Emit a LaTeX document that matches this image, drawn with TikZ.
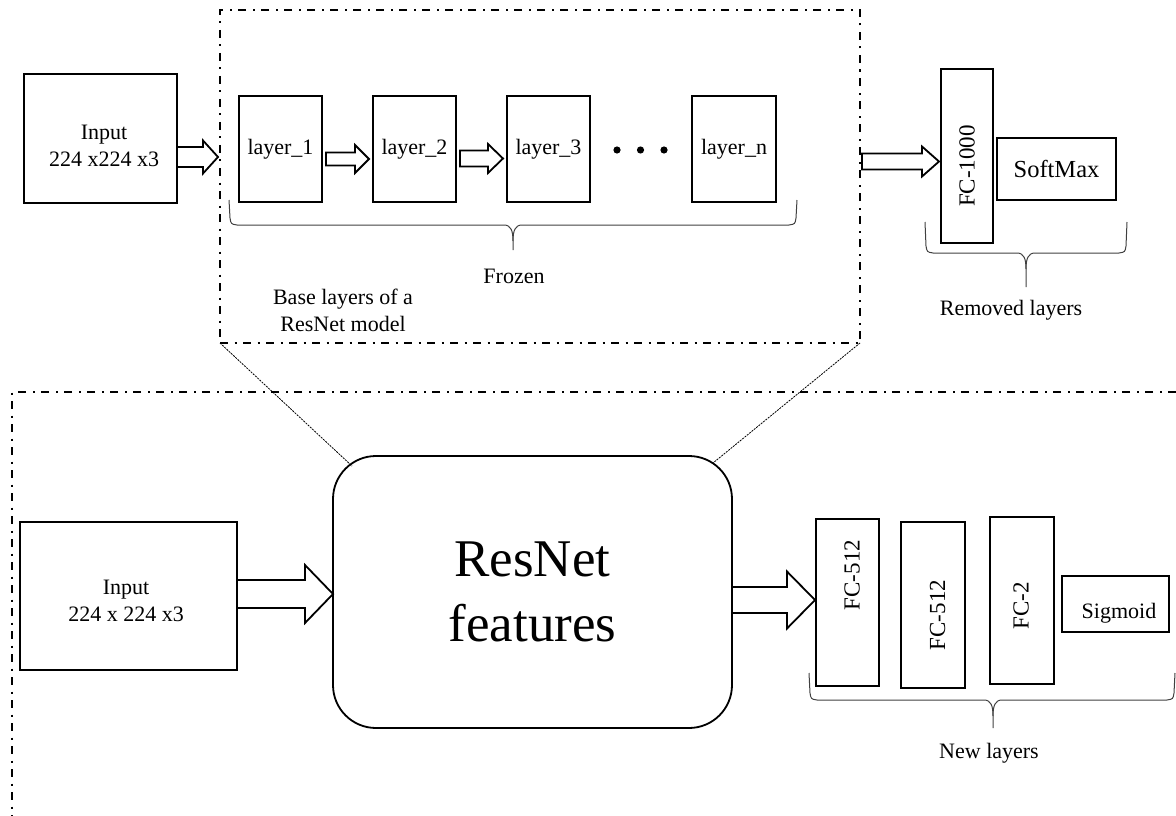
\documentclass[tikz,border=0pt]{standalone}
\usepackage{fontspec}
\setmainfont{Liberation Serif}
\usetikzlibrary{calc}
\tikzset{
  box/.style={draw, line width=1.8pt, inner sep=0pt, outer sep=0pt, rectangle},
  grp/.style={draw, line width=1.8pt, dash pattern=on 8pt off 6.5pt on 2pt off 6.5pt},
  blk/.style={draw, line width=1.8pt, fill=white, line join=miter},
  brc/.style={draw=black!75, line width=1pt},
  zoomline/.style={line width=0.8pt, dash pattern=on 2pt off 1pt},
  txt/.style={inner sep=0pt, outer sep=0pt, font=\fontsize{22}{27}\selectfont},
  fctxt/.style={inner sep=0pt, outer sep=0pt, rotate=90, font=\fontsize{23}{27}\selectfont},
}
% block arrow: from, to, y, shaft half, head half, head length, start gap, end gap
\newcommand\blockarrow[8]{%
  \draw[blk] ($(#1.east|-0,#3)+(#7,-#4)$) -- ($(#2.west|-0,#3)+(-#6-#8,-#4)$)
    -- ($(#2.west|-0,#3)+(-#6-#8,-#5)$) -- ($(#2.west|-0,#3)+(-#8,0)$)
    -- ($(#2.west|-0,#3)+(-#6-#8,#5)$) -- ($(#2.west|-0,#3)+(-#6-#8,#4)$)
    -- ($(#1.east|-0,#3)+(#7,#4)$) -- cycle;}
% curly brace: x1, x2, ytop, yline, xtip, ytip
\newcommand\curlybrace[6]{%
  \draw[brc] (#1,#3) -- (#1+1,#4-7) .. controls (#1+2,#4-1) .. (#1+8,#4) -- (#5-9,#4)
    .. controls (#5-2,#4) and (#5,#4+6) .. (#5,#4+16) -- (#5,#6);
  \draw[brc] (#5,#4+16) .. controls (#5,#4+6) and (#5+2,#4) .. (#5+9,#4) -- (#2-8,#4)
    .. controls (#2-2,#4-1) .. (#2-1,#4-7) -- (#2,#3);}
\begin{document}
\begin{tikzpicture}[x=1pt,y=-1pt]
\path[use as bounding box] (0,0) rectangle (1176,816);

% ---------- top part ----------
\node[grp, minimum width=640pt, minimum height=333pt, inner sep=0pt, outer sep=0pt] (base) at (540,176.5) {};
\node[box, minimum width=153pt, minimum height=129pt] (inp1) at (100.5,138.5) {};
\node[txt, align=center] (inp1t) at (104,146.2) {Input\\224 x224 x3};

\node[box, txt, minimum width=83pt, minimum height=106pt] (l1) at (280.5,149) {layer\_1};
\node[box, txt, minimum width=83pt, minimum height=106pt] (l2) at (414.5,149) {layer\_2};
\node[box, txt, minimum width=83pt, minimum height=106pt] (l3) at (548.5,149) {layer\_3};
\node[box, txt, minimum width=84pt, minimum height=106pt] (ln) at (734,149) {layer\_n};
\fill (617,150) circle (3.6pt) (640.5,150) circle (3.6pt) (664,150) circle (3.6pt);

\node[box, minimum width=52pt, minimum height=174pt] (fc1000) at (967,156) {};
\node[fctxt] at (967,166) {FC-1000};
\node[box, minimum width=119pt, minimum height=62pt, inner sep=0pt, font=\fontsize{24.5}{29}\selectfont] (soft) at (1056.5,169) {SoftMax};

\blockarrow{inp1}{base}{157}{10}{16.5}{15}{0}{2}
\blockarrow{l1}{l2}{159}{6.5}{14}{14}{4}{4}
\blockarrow{l2}{l3}{158.5}{8}{14.5}{15}{4}{4}
\blockarrow{base}{fc1000}{161.5}{8}{15}{17}{2}{2}

\curlybrace{229}{797}{200}{225}{513}{250}
\node[txt, anchor=base] at (514,283) {Frozen};
\node[txt, align=center] at (343,310.5) {Base layers of a\\ResNet model};
\curlybrace{925}{1127}{222}{253}{1026}{287}
\node[txt, anchor=base] at (1011,315) {Removed layers};

% ---------- bottom part ----------
\draw[grp] (1176,392) -- (12,392) -- (12,816);

\node[box, rounded corners=43pt, minimum width=399pt, minimum height=272pt, align=center,
      font=\fontsize{53}{65}\selectfont] (res) at (532.5,592) {ResNet\\features};
\node[box, minimum width=217pt, minimum height=148pt] (inp2) at (128.5,596) {};
\node[txt, align=center] at (126,601.2) {Input\\224 x 224 x3};

\node[box, minimum width=63pt, minimum height=167pt] (f1) at (847.5,602.5) {};
\node[fctxt] at (852,575) {FC-512};
\node[box, minimum width=64pt, minimum height=166pt] (f2) at (933,605) {};
\node[fctxt] at (937.5,615) {FC-512};
\node[box, minimum width=64pt, minimum height=167pt] (f3) at (1022,600.5) {};
\node[fctxt] at (1021,606) {FC-2};
\node[box, minimum width=107pt, minimum height=56pt] (sig) at (1115.5,604) {};
\node[txt, anchor=base] at (1119,618) {Sigmoid};

\blockarrow{inp2}{res}{594}{14}{29}{28}{0}{0}
\blockarrow{res}{f1}{600}{13}{28.5}{28}{0}{1}

\curlybrace{809}{1175}{673}{700}{993}{728}
\node[txt, anchor=base] at (989,758) {New layers};

% zoom lines
\draw[zoomline] (base.south west) -- ([shift={(19,10)}]res.north west);
\draw[zoomline] (base.south east) -- ([shift={(-19,7)}]res.north east);
\end{tikzpicture}
\end{document}
